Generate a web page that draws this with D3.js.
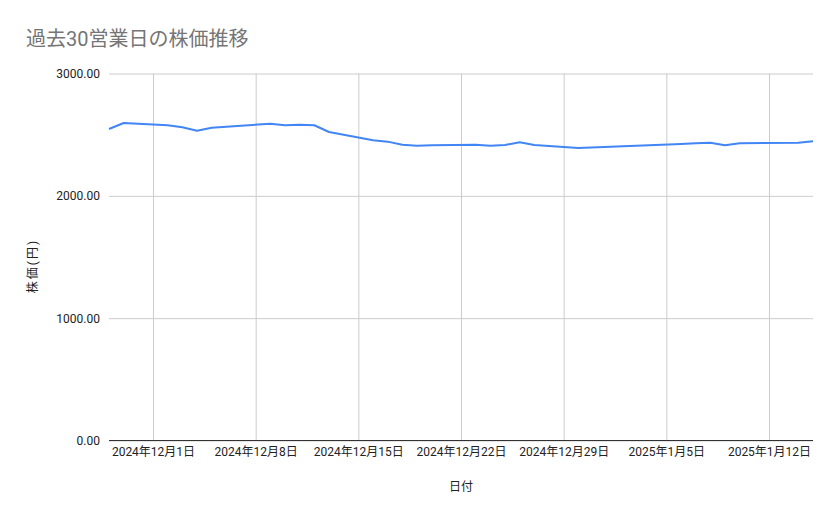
<!DOCTYPE html>
<html>
<head>
<meta charset="utf-8">
<script src="https://cdn.jsdelivr.net/npm/d3@7"></script>
<style>
  html, body { margin: 0; padding: 0; background: #fff; }
  svg { display: block; font-family: Roboto, "Noto Sans CJK JP", sans-serif; }
</style>
</head>
<body>
<svg id="chart" width="839" height="519"></svg>
<script>
// 30 business days (closing price, yen)
const dates = [
  "2024-11-28", "2024-11-29",
  "2024-12-02", "2024-12-03", "2024-12-04", "2024-12-05", "2024-12-06",
  "2024-12-09", "2024-12-10", "2024-12-11", "2024-12-12", "2024-12-13",
  "2024-12-16", "2024-12-17", "2024-12-18", "2024-12-19", "2024-12-20",
  "2024-12-23", "2024-12-24", "2024-12-25", "2024-12-26", "2024-12-27",
  "2024-12-30",
  "2025-01-06", "2025-01-07", "2025-01-08", "2025-01-09", "2025-01-10",
  "2025-01-14", "2025-01-15"
];
const prices = [
  2546, 2595,
  2577, 2560, 2532, 2557, 2565,
  2590, 2577, 2581, 2577, 2522,
  2454, 2443, 2418, 2410, 2413,
  2418, 2410, 2415, 2438, 2415,
  2391,
  2424, 2430, 2434, 2413, 2430,
  2434, 2446
];
const yTicks = [0, 1000, 2000, 3000];

const title = "過去30営業日の株価推移";
const xTitle = "日付";
const yTitle = "株価(円)";

const width = 839;
const height = 519;
const margin = { top: 73.5, right: 26, bottom: 78.5, left: 109 };

const parse = d3.utcParse("%Y-%m-%d");
const data = dates.map((d, i) => ({ date: parse(d), value: prices[i] }));

const x = d3
  .scaleUtc()
  .domain(d3.extent(data, (d) => d.date))
  .range([margin.left, width - margin.right]);

const y = d3
  .scaleLinear()
  .domain([0, 3000])
  .range([height - margin.bottom, margin.top]);

const svg = d3.select("#chart");

// title
svg
  .append("text")
  .attr("x", 26)
  .attr("y", 46)
  .attr("fill", "#757575")
  .style("font-size", "20px")
  .text(title);

// horizontal gridlines + y labels
const yAxis = svg
  .append("g")
  .attr("transform", `translate(${margin.left},0)`)
  .call(
    d3
      .axisLeft(y)
      .tickValues(yTicks)
      .tickSize(-(width - margin.left - margin.right))
      .tickPadding(9)
      .tickFormat(d3.format(".2f"))
  );
yAxis.select(".domain").remove();
yAxis.selectAll("line").attr("stroke", "#cccccc");
yAxis
  .selectAll("text")
  .attr("fill", "#222")
  .style("font-size", "12px")
  .style("font-family", "Roboto, 'Noto Sans CJK JP', sans-serif");

// vertical gridlines + x labels (weekly, Sundays)
const fmtDate = (d) =>
  `${d.getUTCFullYear()}年${d.getUTCMonth() + 1}月${d.getUTCDate()}日`;
const xAxis = svg
  .append("g")
  .attr("transform", `translate(0,${height - margin.bottom})`)
  .call(
    d3
      .axisBottom(x)
      .ticks(d3.utcSunday.every(1))
      .tickSize(-(height - margin.top - margin.bottom))
      .tickPadding(7)
      .tickFormat(fmtDate)
  );
xAxis.select(".domain").remove();
xAxis.selectAll("line").attr("stroke", "#cccccc");
xAxis
  .selectAll("text")
  .attr("fill", "#222")
  .style("font-size", "12px")
  .style("font-family", "Roboto, 'Noto Sans CJK JP', sans-serif");

// baseline at zero
svg
  .append("line")
  .attr("x1", margin.left)
  .attr("x2", width - margin.right)
  .attr("y1", y(0))
  .attr("y2", y(0))
  .attr("stroke", "#333333")
  .attr("stroke-width", 1);

// price line
const line = d3
  .line()
  .x((d) => x(d.date))
  .y((d) => y(d.value));

svg
  .append("path")
  .datum(data)
  .attr("fill", "none")
  .attr("stroke", "#4285f4")
  .attr("stroke-width", 2)
  .attr("stroke-linejoin", "round")
  .attr("d", line);

// axis titles
svg
  .append("text")
  .attr("x", (margin.left + width - margin.right) / 2)
  .attr("y", 491)
  .attr("text-anchor", "middle")
  .attr("fill", "#222")
  .style("font-size", "12px")
  .text(xTitle);

svg
  .append("text")
  .attr("transform", `translate(37,266) rotate(-90)`)
  .attr("text-anchor", "middle")
  .attr("fill", "#222")
  .style("font-size", "12px")
  .style("letter-spacing", "2px")
  .text(yTitle);
</script>
</body>
</html>
